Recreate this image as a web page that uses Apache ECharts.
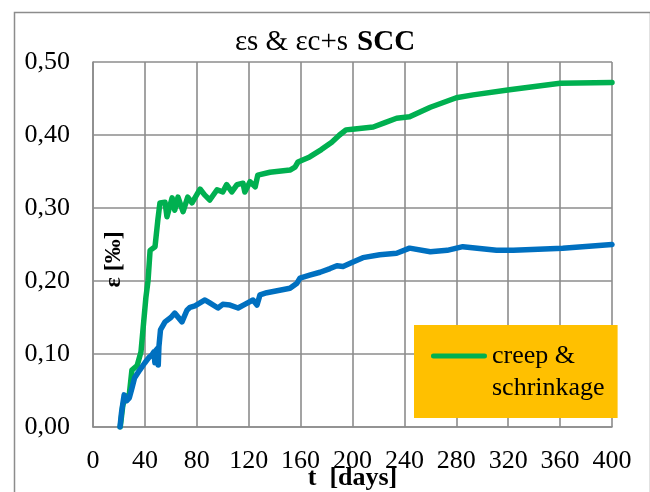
<!DOCTYPE html>
<html>
<head>
<meta charset="utf-8">
<script src="https://cdn.jsdelivr.net/npm/echarts@6/dist/echarts.min.js"></script>
<style>
html,body{margin:0;padding:0;background:#fff;}
#c{width:650px;height:492px;}
</style>
</head>
<body>
<div id="c"></div>
<script>
// ---- data ----
const xTicks = [0, 40, 80, 120, 160, 200, 240, 280, 320, 360, 400];
const yTicks = [0, 0.1, 0.2, 0.3, 0.4, 0.5];

const creepDays = [21, 23, 25, 28, 30, 34, 37, 38.5, 40.8, 42.4, 44, 47.8, 50, 51.6, 55.5, 57, 61, 63, 65.5, 69.4, 73, 76.3, 82.5, 86, 90, 95.6, 100, 103, 107, 111, 115.6, 117, 121, 125, 127, 136.4, 151.8, 155.7, 158, 167, 176, 184, 190, 195, 200, 216, 225, 234, 244, 260, 280, 293, 321, 360, 400];
const creepVals = [0, 0.03, 0.04, 0.045, 0.078, 0.084, 0.103, 0.133, 0.178, 0.2, 0.242, 0.247, 0.284, 0.307, 0.308, 0.288, 0.314, 0.297, 0.315, 0.295, 0.315, 0.307, 0.326, 0.318, 0.311, 0.325, 0.322, 0.332, 0.322, 0.332, 0.334, 0.322, 0.336, 0.329, 0.345, 0.349, 0.352, 0.356, 0.363, 0.370, 0.380, 0.390, 0.400, 0.407, 0.408, 0.411, 0.417, 0.423, 0.425, 0.438, 0.451, 0.455, 0.462, 0.471, 0.472];

const shrinkDays = [20.8, 22, 24, 26, 28, 30, 32, 36, 40, 43, 45.5, 47, 47.7, 48.5, 50, 50.3, 50.8, 52, 55.5, 60, 63, 68.6, 72.4, 74.8, 78.6, 86.3, 90, 96.3, 100, 105.6, 111.8, 117, 123.3, 126.4, 128.7, 134, 151.8, 157.2, 159.5, 167, 175, 182.7, 188, 192.7, 200.4, 208, 221, 234, 244, 260, 273, 285, 311, 324, 362, 400];
const shrinkVals = [0, 0.02, 0.044, 0.036, 0.04, 0.053, 0.067, 0.078, 0.088, 0.095, 0.099, 0.103, 0.088, 0.105, 0.108, 0.085, 0.11, 0.133, 0.144, 0.15, 0.156, 0.144, 0.16, 0.164, 0.166, 0.174, 0.17, 0.163, 0.168, 0.167, 0.163, 0.168, 0.174, 0.167, 0.181, 0.184, 0.19, 0.197, 0.204, 0.208, 0.212, 0.217, 0.221, 0.22, 0.226, 0.232, 0.236, 0.238, 0.245, 0.240, 0.242, 0.247, 0.242, 0.242, 0.245, 0.25];

const creepName = 'creep & schrinkage';
const shrinkName = 'schrinkage';

// ---- chart ----
const FONT = '"Liberation Serif", "Times New Roman", serif';
const zip = (a, b) => a.map((v, i) => [v, b[i]]);
const chart = echarts.init(document.getElementById('c'), null, {renderer: 'canvas'});

chart.setOption({
  backgroundColor: '#fff',
  animation: false,
  textStyle: {fontFamily: FONT, color: '#000'},
  title: {
    text: '{n|εs & εc+s}  {b|SCC}',
    left: 'center',
    top: 23,
    textStyle: {
      rich: {
        n: {fontFamily: FONT, fontSize: 29, color: '#000', fontWeight: 'normal'},
        b: {fontFamily: FONT, fontSize: 29, color: '#000', fontWeight: 'bold'}
      }
    }
  },
  graphic: [{
    type: 'rect',
    left: 12, top: 10,
    shape: {width: 636, height: 490},
    style: {fill: 'none', stroke: '#8c8c8c', lineWidth: 1.5},
    silent: true, z: -1
  }],
  legend: {
    data: [creepName],
    left: 414,
    top: 325,
    padding: [15, 13, 14, 17],
    backgroundColor: '#FFC000',
    itemWidth: 56,
    itemHeight: 37,
    itemGap: 0,
    itemTextGap: 5,
    icon: 'path://M2.5,0L53.5,0A2.5,2.5 0 0 1 53.5,5L2.5,5A2.5,2.5 0 0 1 2.5,0ZM0,37L0.01,37L0,37.01Z',
    itemStyle: {borderWidth: 0},
    formatter: () => 'creep &\nschrinkage',
    textStyle: {fontFamily: FONT, fontSize: 26, lineHeight: 32, color: '#000'}
  },
  grid: {left: 93, right: 38, top: 62, bottom: 65, containLabel: false, outerBoundsMode: 'none'},
  xAxis: {
    type: 'value',
    min: xTicks[0],
    max: xTicks[xTicks.length - 1],
    interval: 40,
    name: 't  [days]',
    nameLocation: 'middle',
    nameGap: 38,
    nameMoveOverlap: false,
    nameTextStyle: {fontFamily: FONT, fontSize: 26, fontWeight: 'bold', color: '#000', lineHeight: 26, verticalAlign: 'top'},
    axisLine: {show: true, lineStyle: {color: '#8c8c8c', width: 1.6}},
    axisTick: {show: false},
    axisLabel: {fontFamily: FONT, fontSize: 26, color: '#000', margin: 21},
    splitLine: {show: true, lineStyle: {color: '#8c8c8c', width: 1.6}}
  },
  yAxis: {
    type: 'value',
    min: yTicks[0],
    max: yTicks[yTicks.length - 1],
    interval: 0.1,
    name: 'ε [‰]',
    nameLocation: 'middle',
    nameRotate: 90,
    nameGap: -33,
    nameMoveOverlap: false,
    nameTextStyle: {fontFamily: FONT, fontSize: 24, fontWeight: 'bold', color: '#000', padding: [0, 30, 0, 0]},
    axisLine: {show: true, lineStyle: {color: '#8c8c8c', width: 1.6}},
    axisTick: {show: false},
    axisLabel: {
      fontFamily: FONT, fontSize: 26, color: '#000', margin: 23,
      formatter: v => v.toFixed(2).replace('.', ',')
    },
    splitLine: {show: true, lineStyle: {color: '#8c8c8c', width: 1.6}}
  },
  series: [
    {
      name: creepName,
      type: 'line',
      data: zip(creepDays, creepVals),
      showSymbol: false,
      symbol: 'none',
      color: '#00B050',
      lineStyle: {color: '#00B050', width: 5.5, cap: 'round', join: 'round'},
      z: 2
    },
    {
      name: shrinkName,
      type: 'line',
      data: zip(shrinkDays, shrinkVals),
      showSymbol: false,
      symbol: 'none',
      color: '#0070C0',
      lineStyle: {color: '#0070C0', width: 5.5, cap: 'round', join: 'round'},
      z: 3
    }
  ]
});
</script>
</body>
</html>
